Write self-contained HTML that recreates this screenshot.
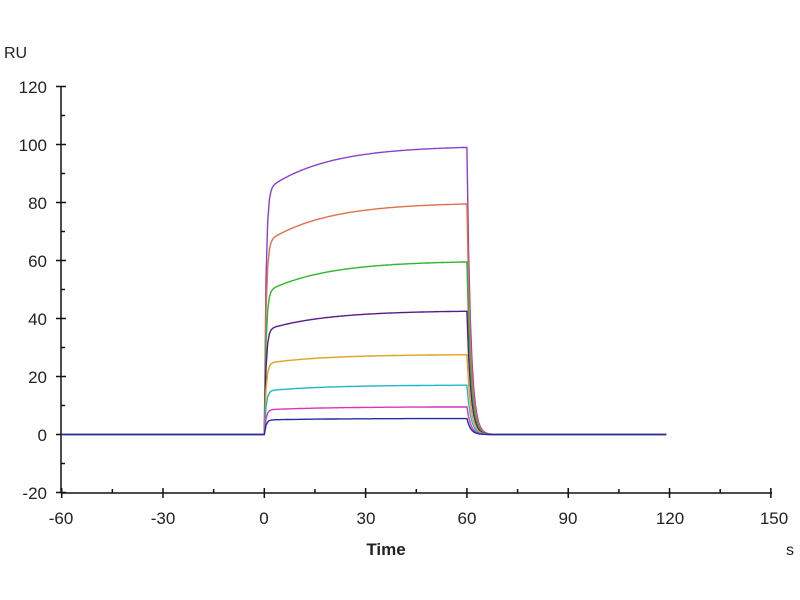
<!DOCTYPE html>
<html><head><meta charset="utf-8"><style>
html,body{margin:0;padding:0;background:#fff;width:800px;height:600px;overflow:hidden}
svg text{font-family:"Liberation Sans",Arial,sans-serif;fill:#222}
</style></head><body>
<svg id="s" width="800" height="600" viewBox="0 0 800 600">
<text x="4" y="58" font-size="16">RU</text>
<g font-size="17" text-anchor="end">
<text x="47" y="93">120</text><text x="47" y="151">100</text><text x="47" y="209">80</text>
<text x="47" y="267">60</text><text x="47" y="325">40</text><text x="47" y="383">20</text>
<text x="47" y="441">0</text><text x="47" y="499">-20</text>
</g>
<g font-size="17" text-anchor="middle">
<text x="61" y="524">-60</text><text x="163" y="524">-30</text><text x="264" y="524">0</text>
<text x="366" y="524">30</text><text x="467" y="524">60</text><text x="568" y="524">90</text>
<text x="670" y="524">120</text><text x="774" y="524">150</text>
</g>
<text x="386" y="555" font-size="17" font-weight="bold" text-anchor="middle">Time</text>
<text x="790" y="555" font-size="16" text-anchor="middle">s</text>
<g id="ax" stroke="#111" stroke-width="1.5" fill="none"></g>
<g id="cv" fill="none" stroke-width="1.4"></g>
</svg>
<script>
var X=function(t){return 264.3+t*3.377},Y=function(v){return 434.5-v*2.9};
var ax=document.getElementById('ax'),d='M61,87 V493 M61,493 H772';
for(var v=-20;v<=120;v+=10){var y=Y(v);d+=(v%20==0)?' M56,'+y+' H66':' M61,'+y+' H65';}
for(var t=-60;t<=150;t+=15){var x=X(t);d+=(t%30==0)?' M'+x+',488 V498':' M'+x+',493 V489';}
ax.innerHTML='<path d="'+d+'"/>';
var cols=['#8a3fd0','#e0704a','#2db52d','#5a1a8a','#e0a020','#20b8c8','#e030c0','#2030a0'];
var fin=[99,79.5,59.5,42.5,27.5,17,9.5,5.5],ini=[84,66,49,36,24.5,15,8.5,5];
var cv=document.getElementById('cv'),h='';
for(var i=0;i<8;i++){var p='';
 for(var t=-60;t<=119;t+=0.5){var v;
  if(t<0)v=0;
  else if(t<=60){var r=1-Math.exp(-t/0.5);v=r*ini[i]+(fin[i]-ini[i])*(1-Math.exp(-t/18))/(1-Math.exp(-60/18));}
  else v=fin[i]*Math.exp(-(t-60)/1.1);
  p+=(p?' L':'M')+X(t).toFixed(1)+','+Y(v).toFixed(1);}
 h+='<path stroke="'+cols[i]+'" d="'+p+'"/>';}
cv.innerHTML=h;
</script>
</body></html>
